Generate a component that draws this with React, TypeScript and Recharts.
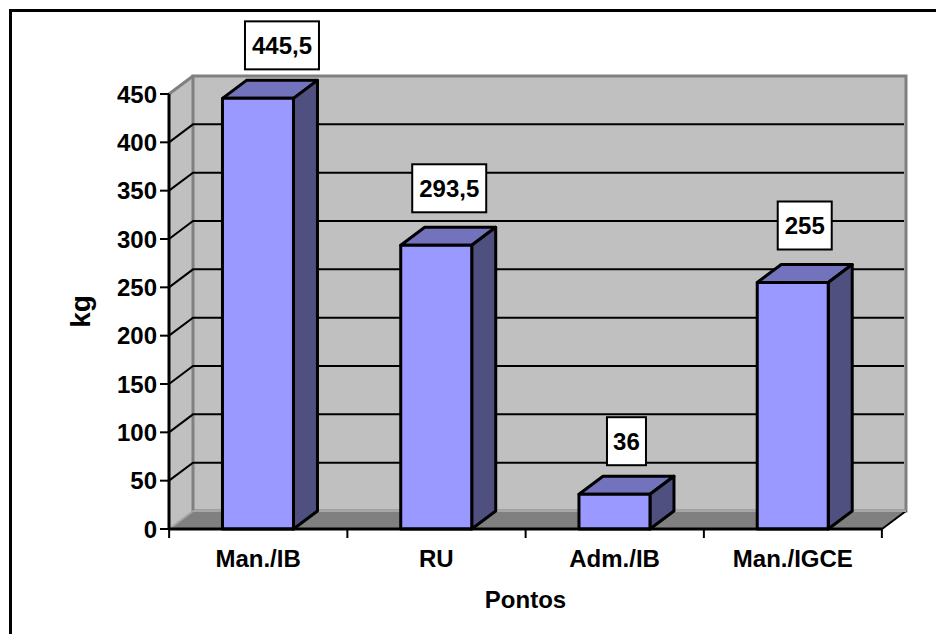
import { Bar, BarChart, LabelList, ReferenceArea, ReferenceLine, XAxis, YAxis } from 'recharts';

const categories = ['Man./IB', 'RU', 'Adm./IB', 'Man./IGCE'];
const weights = [445.5, 293.5, 36, 255];
const yTicks = [0, 50, 100, 150, 200, 250, 300, 350, 400, 450];

const data = categories.map((name, i) => ({ name, kg: weights[i] }));

// oblique offset of the fake 3D box
const DX = 24;
const DY = 18;
const FONT = '"Liberation Sans", Arial, sans-serif';
const TEXT_SIZE = 24;

// the labels were dragged by hand in the original chart
const labelShift = [
  [24, -53],
  [13, -57],
  [12, -53],
  [12, -57],
];

const Walls = ({ x, y, width, height }: any) => {
  const bottom = y + height;
  const right = x + width;
  return (
    <g>
      <polygon
        points={`${x},${y} ${x + DX},${y - DY} ${x + DX},${bottom - DY} ${x},${bottom}`}
        fill="#c0c0c0"
      />
      <rect x={x + DX} y={y - DY} width={width} height={height} fill="#c0c0c0" stroke="#808080" strokeWidth={3} />
      <polygon
        points={`${x},${bottom} ${x + DX},${bottom - DY} ${right + DX},${bottom - DY} ${right},${bottom}`}
        fill="#808080"
      />
      <line x1={x} y1={y} x2={x + DX} y2={y - DY} stroke="#808080" strokeWidth={3} />
      <line x1={x} y1={bottom} x2={x + DX} y2={bottom - DY} stroke="#a6a6a6" strokeWidth={2} />
      <line x1={right} y1={bottom} x2={right + DX} y2={bottom - DY} stroke="#000" strokeWidth={2} />
      <line x1={x + DX} y1={bottom - DY} x2={right + DX} y2={bottom - DY} stroke="#a6a6a6" strokeWidth={2} />
    </g>
  );
};

const GridLine = ({ x1, y1, x2 }: any) => (
  <polyline
    points={`${x1},${y1} ${x1 + DX},${y1 - DY} ${x2 + DX - 2},${y1 - DY}`}
    fill="none"
    stroke="#000"
    strokeWidth={2}
  />
);

const Box3D = ({ x, y, width, height }: any) => {
  const right = x + width;
  const bottom = y + height;
  return (
    <g stroke="#000" strokeWidth={3} strokeLinejoin="round">
      <polygon
        points={`${x},${y} ${x + DX},${y - DY} ${right + DX},${y - DY} ${right},${y}`}
        fill="#7373bd"
      />
      <polygon
        points={`${right},${y} ${right + DX},${y - DY} ${right + DX},${bottom - DY} ${right},${bottom}`}
        fill="#4f4f80"
      />
      <rect x={x} y={y} width={width} height={height} fill="#9999ff" />
    </g>
  );
};

const ValueLabel = ({ x, y, width, index, value }: any) => {
  const text = String(value).replace('.', ',');
  const w = text.length === 5 ? 74 : text.length === 3 ? 54 : 39;
  const h = 48;
  const cx = x + width / 2 + labelShift[index][0];
  const cy = y + labelShift[index][1];
  return (
    <g>
      <rect x={cx - w / 2} y={cy - h / 2} width={w} height={h} fill="#fff" stroke="#000" strokeWidth={2} />
      <text
        x={cx}
        y={cy}
        dy="0.36em"
        textAnchor="middle"
        fontFamily={FONT}
        fontSize={TEXT_SIZE}
        fontWeight="bold"
        fill="#000"
      >
        {text}
      </text>
    </g>
  );
};

// category ticks sit between the categories, not under them
const CategoryTick = ({ x, y, index, payload }: any) => {
  const band = 178;
  return (
    <g>
      <line x1={x - band / 2} y1={y - 8} x2={x - band / 2} y2={y + 1} stroke="#000" strokeWidth={2} />
      {index === categories.length - 1 && (
        <line x1={x + band / 2} y1={y - 8} x2={x + band / 2} y2={y + 1} stroke="#000" strokeWidth={2} />
      )}
      <text
        x={x}
        y={y + 30}
        textAnchor="middle"
        fontFamily={FONT}
        fontSize={TEXT_SIZE}
        fontWeight="bold"
        fill="#000"
      >
        {payload.value}
      </text>
    </g>
  );
};

const App = () => {
  return (
    <div style={{ position: 'absolute', left: 0, top: 0, width: 936, height: 634, background: '#fff', overflow: 'hidden' }}>
      <div
        style={{
          position: 'absolute',
          left: 9,
          top: 9,
          right: 0,
          bottom: 0,
          borderLeft: '3px solid #000',
          borderTop: '3px solid #000',
        }}
      />
      <div style={{ position: 'absolute', left: 0, top: 0 }}>
        <BarChart
          width={936}
          height={634}
          data={data}
          margin={{ top: 94, right: 54, bottom: 0, left: 59 }}
          barCategoryGap="30%"
          style={{ fontFamily: FONT }}
        >
          <XAxis
            dataKey="name"
            height={105}
            interval={0}
            tickLine={false}
            axisLine={{ stroke: '#000', strokeWidth: 3 }}
            tick={<CategoryTick />}
            label={{
              value: 'Pontos',
              position: 'insideBottom',
              offset: 26,
              fill: '#000',
              fontSize: TEXT_SIZE,
              fontWeight: 'bold',
              fontFamily: FONT,
            }}
          />
          <YAxis
            width={110}
            domain={[0, 450]}
            ticks={yTicks}
            interval={0}
            tickSize={9}
            tickMargin={3}
            tickLine={{ stroke: '#000', strokeWidth: 2 }}
            axisLine={{ stroke: '#000', strokeWidth: 3 }}
            tick={{ fill: '#000', fontSize: TEXT_SIZE, fontWeight: 'bold', fontFamily: FONT }}
            label={{
              value: 'kg',
              angle: -90,
              position: 'insideLeft',
              offset: 21,
              textAnchor: 'middle',
              fill: '#000',
              fontSize: TEXT_SIZE + 4,
              fontWeight: 'bold',
              fontFamily: FONT,
            }}
          />
          <ReferenceArea y1={0} y2={450} shape={<Walls />} zIndex={-50} />
          {yTicks
            .filter((t) => t > 0 && t < 450)
            .map((t) => (
              <ReferenceLine key={t} y={t} shape={<GridLine />} zIndex={-40} />
            ))}
          <Bar dataKey="kg" shape={<Box3D />} isAnimationActive={false}>
            <LabelList dataKey="kg" content={<ValueLabel />} />
          </Bar>
        </BarChart>
      </div>
    </div>
  );
};

export default App;
